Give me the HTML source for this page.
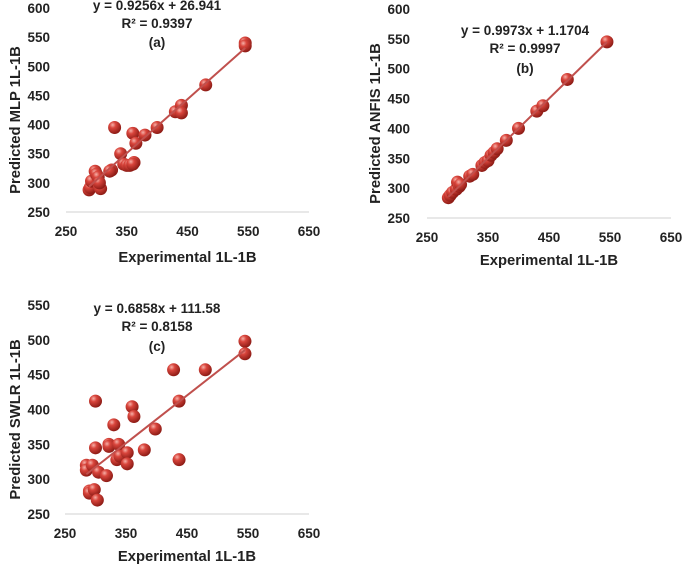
<!DOCTYPE html>
<html><head><meta charset="utf-8"><style>
body{margin:0;background:#fff;width:685px;height:565px;overflow:hidden;font-family:"Liberation Sans",sans-serif}
svg text{font-family:"Liberation Sans",sans-serif;font-weight:bold;fill:#222}
</style></head><body>
<svg id="svg" width="685" height="565">
<defs><radialGradient id="ball" cx="35%" cy="30%" r="70%"><stop offset="0" stop-color="#f6b0a8"/><stop offset="0.35" stop-color="#d9453c"/><stop offset="1" stop-color="#8e1c16"/></radialGradient></defs>
</svg>
<script>
const xTicks=[250,350,450,550,650];
const yTicksAB=[250,300,350,400,450,500,550,600];
const yTicksC=[250,300,350,400,450,500,550];
const aX=[288,290,292,298,300,303,305,307,305,325,330,322,340,345,350,355,360,362,365,360,380,400,430,440,440,480,545,545];
const aY=[288,292,303,320,315,310,293,290,300,322,395,320,350,332,330,330,385,335,368,332,382,395,422,433,420,468,540,535];
const bX=[285,288,292,298,300,303,305,320,325,340,345,350,355,360,365,380,400,430,440,480,545];
const bY=[284,288,293,298,310,303,306,320,323,338,343,346,355,360,366,380,400,429,438,482,545];
const cX=[285,285,290,290,295,298,300,300,303,305,318,322,322,330,335,338,340,352,352,360,363,380,398,428,437,437,480,545,545];
const cY=[320,313,283,280,320,285,412,345,270,310,305,350,347,378,328,350,333,338,322,404,390,342,372,457,412,328,457,498,480];
const fits=[[0.9256,26.941],[0.9973,1.1704],[0.6858,111.58]];
const eqs=[["y = 0.9256x + 26.941","R² = 0.9397","(a)"],["y = 0.9973x + 1.1704","R² = 0.9997","(b)"],["y = 0.6858x + 111.58","R² = 0.8158","(c)"]];
const ylabels=["Predicted MLP 1L-1B","Predicted ANFIS 1L-1B","Predicted SWLR 1L-1B"];
const panels=[
 {id:'a',x0:66,x1:309,y0:212,ymin:250,ymax:600,ytop:8,yt:yTicksAB,X:aX,Y:aY,tickR:50,ylx:15,eqx:157,eqy:[10,28,47],xl:236,xt:262},
 {id:'b',x0:427,x1:671,y0:218,ymin:250,ymax:600,ytop:9,yt:yTicksAB,X:bX,Y:bY,tickR:410,ylx:375,eqx:525,eqy:[35,53,73],xl:242,xt:265},
 {id:'c',x0:65,x1:309,y0:514,ymin:250,ymax:550,ytop:305,yt:yTicksC,X:cX,Y:cY,tickR:50,ylx:15,eqx:157,eqy:[313,331,351],xl:538,xt:561}
];
const svg=document.getElementById('svg');const NS='http://www.w3.org/2000/svg';
function mk(t,a,p){const e=document.createElementNS(NS,t);for(const k in a)e.setAttribute(k,a[k]);(p||svg).appendChild(e);return e;}
panels.forEach((p,i)=>{
 const g=mk('g',{});
 
 
 const sx=v=>p.x0+(v-250)/400*(p.x1-p.x0);
 const sy=v=>p.y0-(v-p.ymin)/(p.ymax-p.ymin)*(p.y0-p.ytop);
 const ax=mk('line',{x1:p.x0,x2:p.x1,y1:p.y0,y2:p.y0,stroke:'#d9d9d9','stroke-width':1.2},g);
 
 
 xTicks.forEach(v=>{const t=mk('text',{x:sx(v),y:p.xl,'text-anchor':'middle','font-size':13.5},g);t.textContent=v;
  
  });
 p.yt.forEach(v=>{const t=mk('text',{x:p.tickR,y:sy(v)+5,'text-anchor':'end','font-size':13.5},g);t.textContent=v;
  
  });
 const xt=mk('text',{x:(p.x0+p.x1)/2,y:p.xt,'text-anchor':'middle','font-size':14.8},g);xt.textContent='Experimental 1L-1B';
 
 
 const cy=(p.y0+p.ytop)/2+10;
 const yt=mk('text',{x:p.ylx,y:cy,'text-anchor':'middle','font-size':14.8,transform:`rotate(-90 ${p.ylx} ${cy})`,dy:5},g);yt.textContent=ylabels[i];
 
 
 p.X.forEach((x,j)=>{const c=mk('circle',{cx:sx(x),cy:sy(p.Y[j]),r:6.5,fill:'url(#ball)'},g);
  
  });
 const mn=Math.min(...p.X),mxv=Math.max(...p.X),[m,b]=fits[i];
 const tl=mk('line',{x1:sx(mn),y1:sy(m*mn+b),x2:sx(mxv),y2:sy(m*mxv+b),stroke:'#c0504d','stroke-width':2},g);
 
 
 eqs[i].forEach((s,k)=>{const t=mk('text',{x:p.eqx,y:p.eqy[k],'text-anchor':'middle','font-size':13.5},g);t.textContent=s;
  
  });
});
</script>
</body></html>
